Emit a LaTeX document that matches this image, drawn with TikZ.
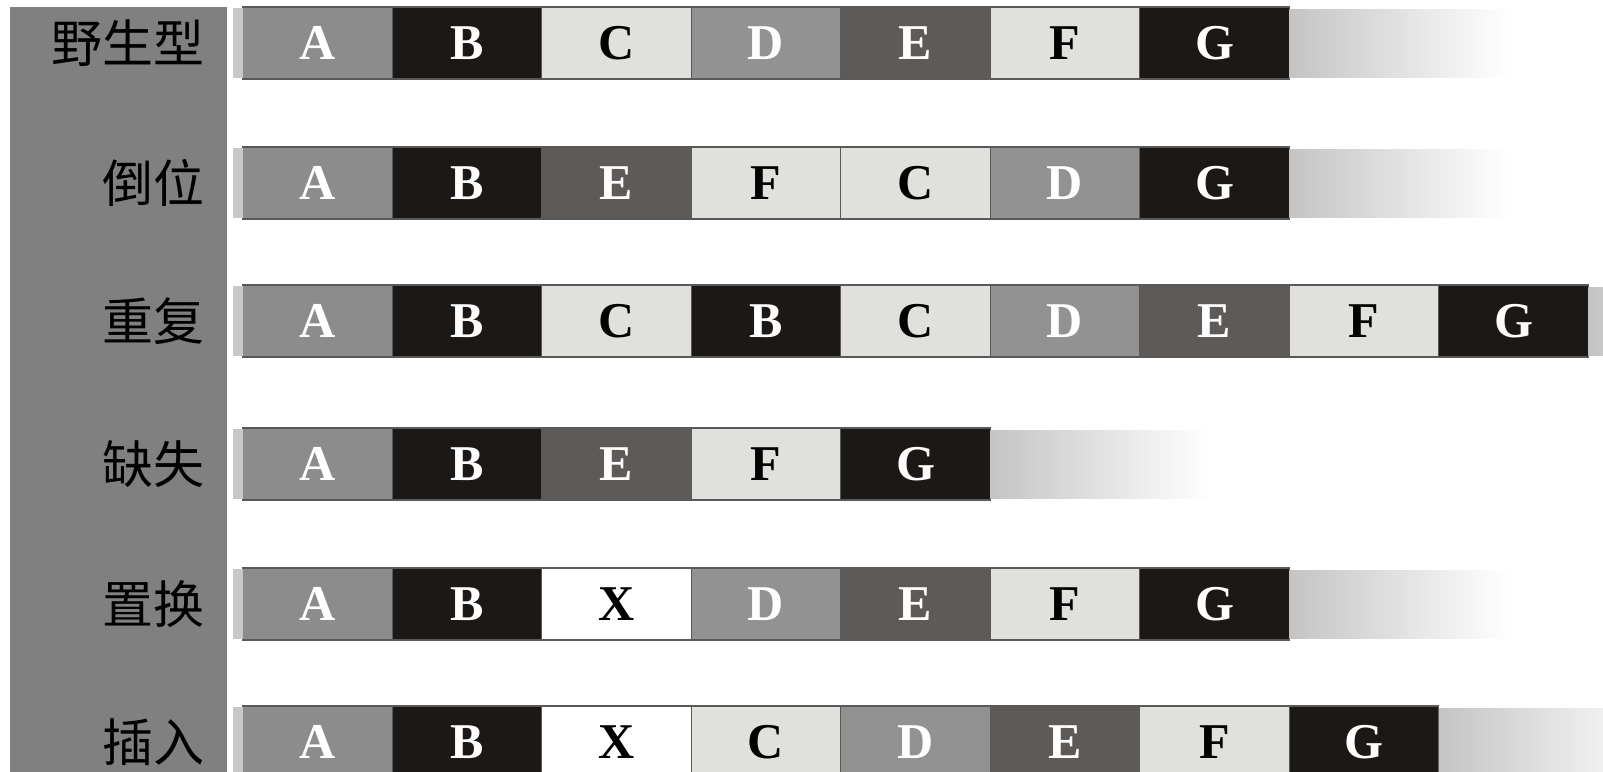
\documentclass[tikz,border=0pt]{standalone}
\usepackage{fontspec}
\setmainfont{Liberation Serif}
\newfontfamily\cjk{Noto Sans CJK SC}
\usepackage{tikz}
\usetikzlibrary{positioning}

\definecolor{bandgray}{RGB}{128,128,128}
\definecolor{cA}{RGB}{140,140,140}
\definecolor{cB}{RGB}{28,24,22}
\definecolor{cC}{RGB}{224,224,220}
\definecolor{cD}{RGB}{146,146,146}
\definecolor{cE}{RGB}{94,90,88}
\definecolor{stubgray}{RGB}{200,200,200}
\definecolor{fadegray}{RGB}{196,196,196}

\begin{document}
\begin{tikzpicture}[
  seg/.style={draw=black!65, line width=0.6pt, minimum width=2.99cm,
    minimum height=1.44cm, inner sep=0pt, outer sep=0pt,
    font=\fontsize{28.5}{28.5}\selectfont\bfseries},
  gA/.style={seg, fill=cA, text=white},
  gB/.style={seg, fill=cB, text=white},
  gC/.style={seg, fill=cC, text=black},
  gD/.style={seg, fill=cD, text=white},
  gE/.style={seg, fill=cE, text=white},
  gF/.style={seg, fill=cC, text=black},
  gG/.style={seg, fill=cB, text=white},
  gX/.style={seg, fill=white, text=black},
  stub/.style={fill=stubgray, minimum width=0.2cm, minimum height=1.40cm,
    inner sep=0pt, outer sep=0pt},
  fade/.style={left color=fadegray, right color=white, minimum width=4.40cm,
    minimum height=1.36cm, inner sep=0pt, outer sep=0pt},
  lbl/.style={anchor=east, inner sep=0pt, font=\cjk\fontsize{29}{29}\selectfont}
 ]
\useasboundingbox (0,0) rectangle (32.06,-15.44);
\fill[bandgray] (0.20,-0.14) rectangle (4.54,-15.44);

\node[lbl] (lw) at (4.10,-0.86) {野生型};
\node[lbl] (lv) at (4.10,-3.66) {倒位};
\node[lbl] (ld) at (4.10,-6.42) {重复};
\node[lbl] (ll) at (4.10,-9.28) {缺失};
\node[lbl] (ls) at (4.10,-12.08) {置换};
\node[lbl] (ln) at (4.10,-14.84) {插入};

\node[gA] (w1) at (6.35,-0.86) {A};
\node[gB] (w2) at (9.34,-0.86) {B};
\node[gC] (w3) at (12.33,-0.86) {C};
\node[gD] (w4) at (15.32,-0.86) {D};
\node[gE] (w5) at (18.31,-0.86) {E};
\node[gF] (w6) at (21.30,-0.86) {F};
\node[gG] (w7) at (24.29,-0.86) {G};
\node[stub, left=0pt of w1] (wstub) {};
\node[fade, right=0pt of w7] (wend) {};

\node[gA] (v1) at (6.35,-3.66) {A};
\node[gB] (v2) at (9.34,-3.66) {B};
\node[gE] (v3) at (12.33,-3.66) {E};
\node[gF] (v4) at (15.32,-3.66) {F};
\node[gC] (v5) at (18.31,-3.66) {C};
\node[gD] (v6) at (21.30,-3.66) {D};
\node[gG] (v7) at (24.29,-3.66) {G};
\node[stub, left=0pt of v1] (vstub) {};
\node[fade, right=0pt of v7] (vend) {};

\node[gA] (d1) at (6.35,-6.42) {A};
\node[gB] (d2) at (9.34,-6.42) {B};
\node[gC] (d3) at (12.33,-6.42) {C};
\node[gB] (d4) at (15.32,-6.42) {B};
\node[gC] (d5) at (18.31,-6.42) {C};
\node[gD] (d6) at (21.30,-6.42) {D};
\node[gE] (d7) at (24.29,-6.42) {E};
\node[gF] (d8) at (27.28,-6.42) {F};
\node[gG] (d9) at (30.27,-6.42) {G};
\node[stub, left=0pt of d1] (dstub) {};
\node[fade, right=0pt of d9] (dend) {};

\node[gA] (l1) at (6.35,-9.28) {A};
\node[gB] (l2) at (9.34,-9.28) {B};
\node[gE] (l3) at (12.33,-9.28) {E};
\node[gF] (l4) at (15.32,-9.28) {F};
\node[gG] (l5) at (18.31,-9.28) {G};
\node[stub, left=0pt of l1] (lstub) {};
\node[fade, right=0pt of l5] (lend) {};

\node[gA] (s1) at (6.35,-12.08) {A};
\node[gB] (s2) at (9.34,-12.08) {B};
\node[gX] (s3) at (12.33,-12.08) {X};
\node[gD] (s4) at (15.32,-12.08) {D};
\node[gE] (s5) at (18.31,-12.08) {E};
\node[gF] (s6) at (21.30,-12.08) {F};
\node[gG] (s7) at (24.29,-12.08) {G};
\node[stub, left=0pt of s1] (sstub) {};
\node[fade, right=0pt of s7] (send) {};

\node[gA] (n1) at (6.35,-14.84) {A};
\node[gB] (n2) at (9.34,-14.84) {B};
\node[gX] (n3) at (12.33,-14.84) {X};
\node[gC] (n4) at (15.32,-14.84) {C};
\node[gD] (n5) at (18.31,-14.84) {D};
\node[gE] (n6) at (21.30,-14.84) {E};
\node[gF] (n7) at (24.29,-14.84) {F};
\node[gG] (n8) at (27.28,-14.84) {G};
\node[stub, left=0pt of n1] (nstub) {};
\node[fade, right=0pt of n8] (nend) {};
\end{tikzpicture}
\end{document}
